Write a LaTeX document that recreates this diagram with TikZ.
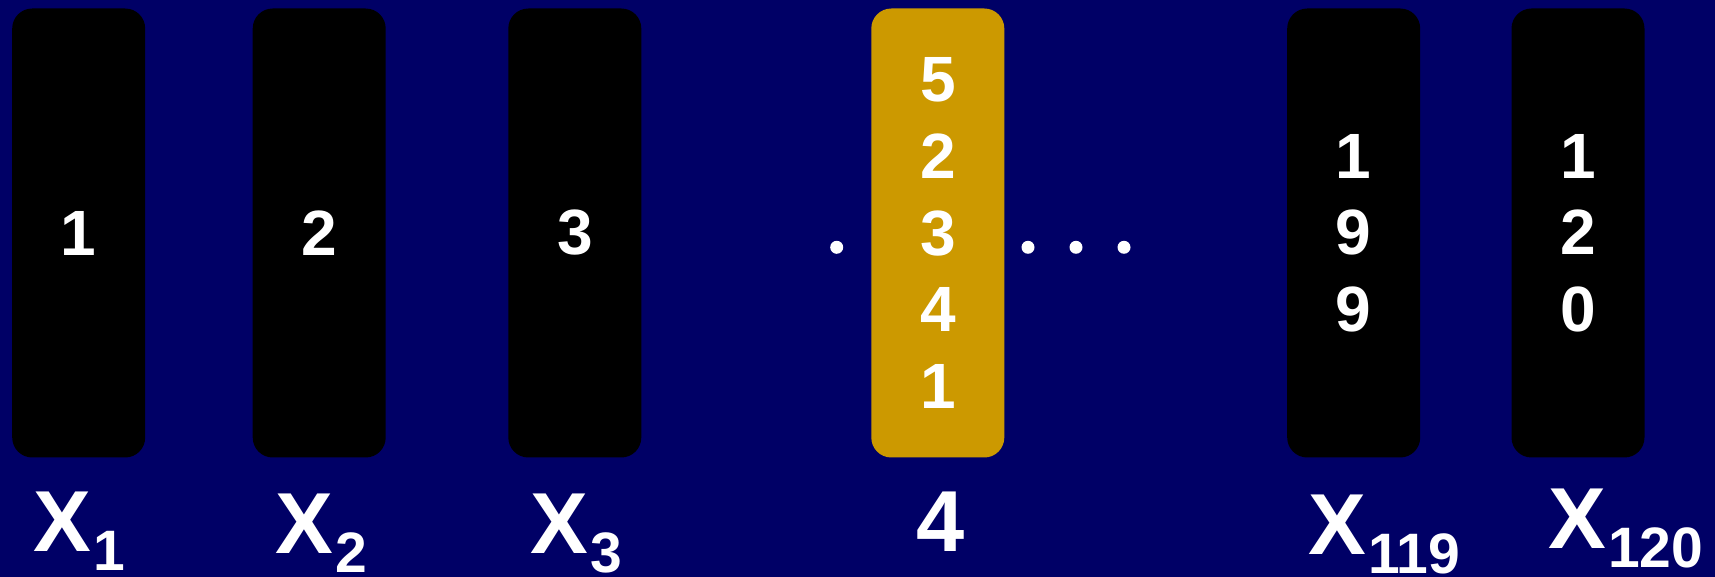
\documentclass[tikz,border=0pt]{standalone}
\usepackage{fontspec}
\setmainfont{Liberation Sans}
\usetikzlibrary{positioning}
\definecolor{Navy}{HTML}{000066}
\definecolor{Gold}{HTML}{CC9900}
\newcommand{\varsub}[2]{#1\hspace{1pt}\raisebox{-9.5pt}{\fontsize{28.5}{30}\selectfont #2}}

\begin{document}
\begin{tikzpicture}[x=0.5pt,y=-0.5pt,
    col/.style={rounded corners=10pt,fill=black,minimum width=66.5pt,
      minimum height=224.5pt,inner sep=0pt,text=white,align=center,
      font=\fontsize{32}{38.35}\selectfont\bfseries},
    lbl/.style={anchor=base west,inner sep=0pt,text=white,
      font=\fontsize{43.3}{46}\selectfont\bfseries},
    ellip/.style={circle,fill=white,inner sep=0pt,minimum size=6.5pt}
  ]
    \fill[Navy] (0,0) rectangle (1715,577);
    \useasboundingbox (0,0) rectangle (1715,577);
    % columns
    \node[col] (x1) at (78.7,233) {1};
    \node[col] (x2) at (319.2,233) {2};
    \node[col] (x3) at (574.8,233) {3};
    \node[col,fill=Gold] (x4) at (937.8,233) {5\\2\\3\\4\\1};
    \node[col] (x119) at (1353.7,233) {1\\9\\9};
    \node[col] (x120) at (1578,233) {1\\2\\0};
    % dots
    \node[ellip] (dotL) at (836.7,247.3) {};
    \node[ellip] (dotA) at (1028,247.3) {};
    \node[ellip] (dotB) at (1076,247.3) {};
    \node[ellip] (dotC) at (1124,247.3) {};
    % labels
    \node[lbl] (lx1) at (33,551) {\varsub{X}{1}};
    \node[lbl] (lx2) at (275,553) {\varsub{X}{2}};
    \node[lbl] (lx3) at (530,553) {\varsub{X}{3}};
    \node[lbl,anchor=base] (lx4) at (940.5,551) {4};
    \node[lbl] (lx119) at (1308,554) {\varsub{X}{119}};
    \node[lbl] (lx120) at (1548,548) {\varsub{X}{120}};
  \end{tikzpicture}
\end{document}
